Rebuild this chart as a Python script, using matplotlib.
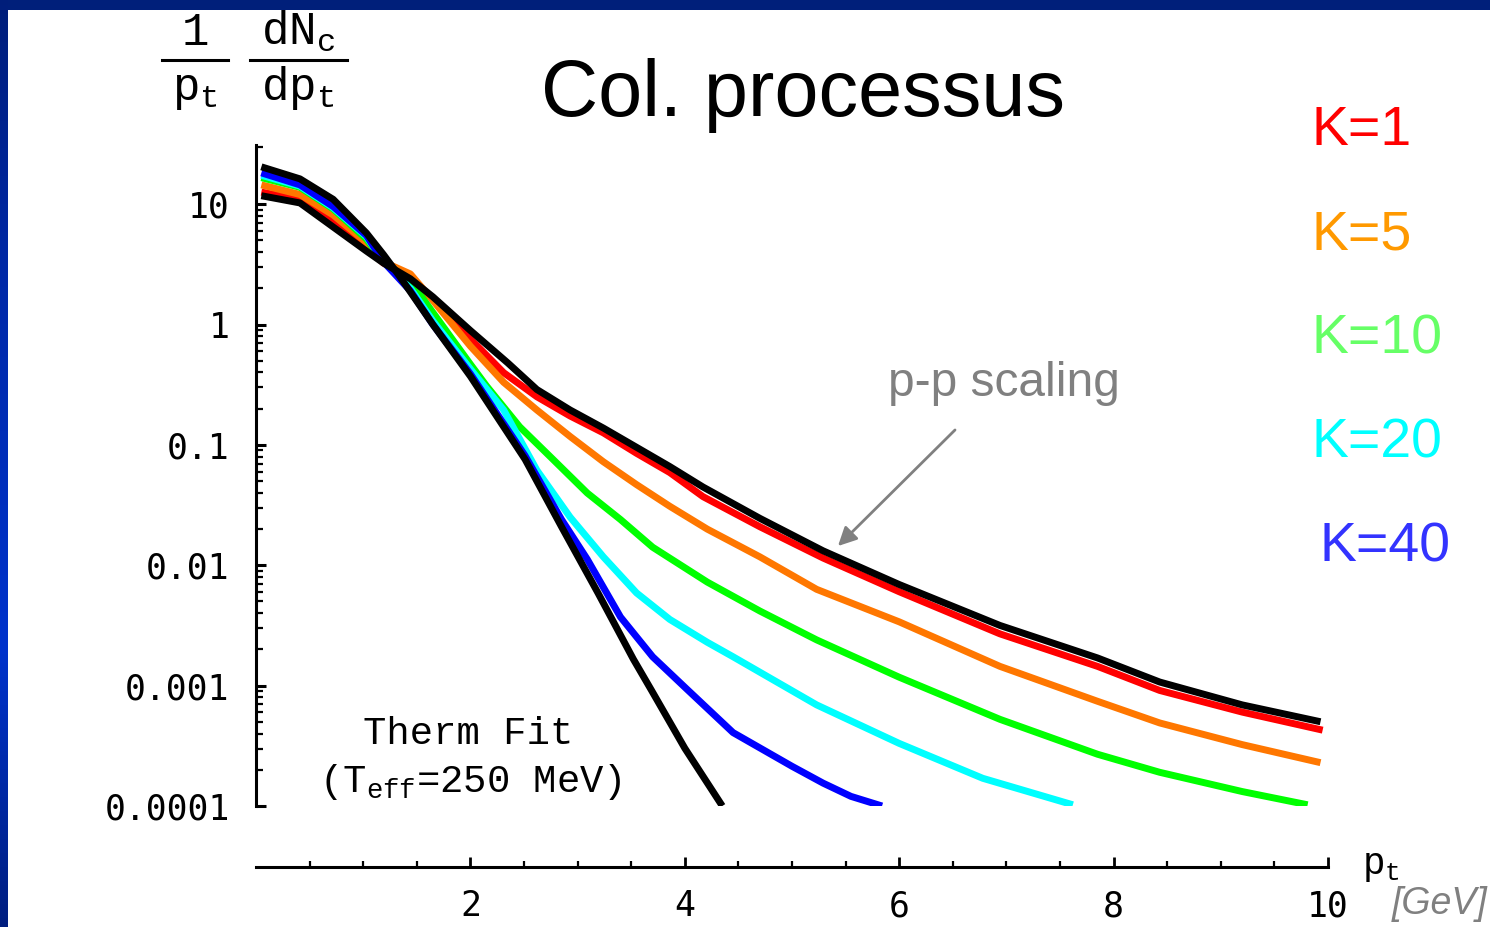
import numpy as np
import matplotlib
matplotlib.use('Agg')
import matplotlib.pyplot as plt
from matplotlib.lines import Line2D
from matplotlib.patches import Rectangle, FancyArrowPatch
from matplotlib.ticker import FixedLocator, FixedFormatter

plt.rcParams['mathtext.fontset'] = 'custom'
plt.rcParams['mathtext.rm'] = 'Liberation Mono'
plt.rcParams['mathtext.it'] = 'Liberation Mono'

# ---------------- data (y given as log10 values) ----------------
x_therm = [0.05, 0.41, 0.72, 1.03, 1.19, 1.34, 1.65, 2.0, 2.51, 2.85, 3.19, 3.52, 3.69, 4.0, 4.35]
logy_therm = [1.31, 1.21, 1.04, 0.76, 0.58, 0.40, 0.0, -0.43, -1.12, -1.68, -2.23, -2.78, -3.04, -3.52, -4.0]

x_pp = [0.05, 0.41, 0.72, 1.03, 1.19, 1.44, 1.65, 2.0, 2.35, 2.62, 2.93, 3.24, 3.55, 3.86, 4.17,
        4.7, 5.29, 6.0, 6.94, 7.85, 8.43, 9.2, 9.93]
logy_pp = [1.07, 1.01, 0.81, 0.61, 0.51, 0.38, 0.23, -0.05, -0.32, -0.54, -0.71, -0.86, -1.02, -1.18, -1.35,
           -1.61, -1.88, -2.16, -2.50, -2.77, -2.97, -3.16, -3.30]

x_k1 = [0.05, 0.41, 0.72, 1.03, 1.19, 1.44, 1.65, 2.0, 2.31, 2.62, 2.93, 3.24, 3.55, 3.86, 4.17,
        4.7, 5.29, 6.0, 6.94, 7.85, 8.43, 9.2, 9.95]
logy_k1 = [1.10, 1.04, 0.87, 0.64, 0.51, 0.39, 0.21, -0.12, -0.40, -0.60, -0.76, -0.90, -1.07, -1.23, -1.43,
           -1.68, -1.94, -2.22, -2.57, -2.84, -3.04, -3.22, -3.37]

x_k5 = [0.05, 0.41, 0.72, 1.03, 1.19, 1.44, 1.65, 2.0, 2.31, 2.62, 2.93, 3.24, 3.55, 3.86, 4.21,
        4.7, 5.23, 6.0, 6.94, 7.85, 8.43, 9.2, 9.93]
logy_k5 = [1.16, 1.08, 0.91, 0.68, 0.52, 0.42, 0.20, -0.18, -0.48, -0.71, -0.93, -1.14, -1.33, -1.51, -1.70,
           -1.93, -2.20, -2.47, -2.84, -3.13, -3.31, -3.49, -3.64]

x_k10 = [0.05, 0.41, 0.72, 1.03, 1.19, 1.44, 1.65, 2.0, 2.15, 2.46, 2.77, 3.09, 3.40, 3.70, 4.21,
         4.7, 5.23, 6.0, 6.94, 7.85, 8.43, 9.2, 9.81]
logy_k10 = [1.22, 1.14, 0.96, 0.71, 0.52, 0.36, 0.10, -0.33, -0.51, -0.85, -1.12, -1.40, -1.62, -1.85, -2.14,
            -2.38, -2.62, -2.93, -3.28, -3.57, -3.72, -3.88, -3.99]

x_k20 = [0.05, 0.41, 0.72, 1.03, 1.19, 1.44, 1.65, 2.0, 2.31, 2.62, 2.93, 3.24, 3.55, 3.86, 4.21,
         4.45, 5.23, 6.0, 6.78, 7.62]
logy_k20 = [1.24, 1.15, 0.97, 0.73, 0.52, 0.30, 0.03, -0.37, -0.71, -1.21, -1.60, -1.93, -2.23, -2.45, -2.64,
            -2.76, -3.16, -3.48, -3.77, -3.99]

x_k40 = [0.05, 0.41, 0.72, 1.03, 1.19, 1.44, 1.65, 2.0, 2.51, 2.85, 3.09, 3.40, 3.70, 4.02, 4.45,
         5.0, 5.29, 5.55, 5.84]
logy_k40 = [1.26, 1.16, 0.98, 0.74, 0.52, 0.28, 0.0, -0.41, -1.09, -1.62, -1.95, -2.43, -2.76, -3.03, -3.39,
            -3.67, -3.81, -3.92, -4.0]

k_labels = ['K=1', 'K=5', 'K=10', 'K=20', 'K=40']
k_colors = ['#ff0000', '#ff9900', '#66ff66', '#00ffff', '#3333ff']
line_colors = ['#ff0000', '#ff7700', '#00ff00', '#00ffff', '#0000ff']

y_major = [1e-4, 1e-3, 1e-2, 1e-1, 1, 10]
y_major_labels = ['0.0001', '0.001', '0.01', '0.1', '1', '10']
x_major = [2, 4, 6, 8, 10]
x_major_labels = ['2', '4', '6', '8', '10']

# ---------------- figure ----------------
W, H, DPI = 1490, 927, 100
fig = plt.figure(figsize=(W / DPI, H / DPI), dpi=DPI)
fig.patch.set_facecolor('white')

def fx(x):
    return x / W

def fy(y):
    return 1 - y / H

# slide border: top band and left gradient band
fig.add_artist(Rectangle((0, fy(10)), 1, 10 / H, transform=fig.transFigure,
                         facecolor='#001f7a', edgecolor='none', zorder=0))
bax = fig.add_axes([0, 0, 8 / W, 1])
grad_pos = np.array([0.0, 0.3, 0.7, 1.0])
grad_col = np.array([[0.0, 0.12, 0.48], [0.0, 0.16, 0.66], [0.0, 0.2, 0.8], [0.0, 0.12, 0.5]])
yy = np.linspace(0, 1, 200)
img = np.stack([np.interp(yy, grad_pos, grad_col[:, c]) for c in range(3)], axis=1)[:, None, :]
bax.imshow(img, aspect='auto', extent=[0, 1, 1, 0])
bax.set_axis_off()

ax = fig.add_axes([fx(256), fy(806), (1328 - 256) / W, (806 - 145) / H])
ax.set_facecolor('none')
ax.set_yscale('log')
ax.set_xlim(0, 10)
ax.set_ylim(1e-4, 31)

LW = 5.0
series = [(x_k1, logy_k1), (x_k5, logy_k5), (x_k10, logy_k10), (x_k20, logy_k20), (x_k40, logy_k40)]
for (xs, ls), c in zip(series, line_colors):
    ax.plot(xs, 10 ** np.array(ls), color=c, lw=LW, solid_capstyle='butt', solid_joinstyle='round')
ax.plot(x_pp, 10 ** np.array(logy_pp), color='black', lw=LW, solid_capstyle='butt', solid_joinstyle='round')
ax.plot(x_therm, 10 ** np.array(logy_therm), color='black', lw=LW, solid_capstyle='butt', solid_joinstyle='round')

# spines
for s in ['top', 'right']:
    ax.spines[s].set_visible(False)
ax.spines['left'].set_linewidth(2.2)
ax.spines['bottom'].set_linewidth(2.2)
ax.spines['bottom'].set_position(('outward', 61 * 72 / DPI))

# y ticks
ax.yaxis.set_major_locator(FixedLocator(y_major))
ax.yaxis.set_major_formatter(FixedFormatter(y_major_labels))
minor_y = [m * 10.0 ** k for k in range(-4, 1) for m in range(2, 10)] + [30]
ax.yaxis.set_minor_locator(FixedLocator(minor_y))
ax.yaxis.set_minor_formatter(FixedFormatter([''] * len(minor_y)))
ax.tick_params(axis='y', which='major', direction='in', length=7.5, width=2.2, pad=19, labelsize=25)
ax.tick_params(axis='y', which='minor', direction='in', length=5, width=1.6)

# x ticks
ax.xaxis.set_major_locator(FixedLocator(x_major))
ax.xaxis.set_major_formatter(FixedFormatter(x_major_labels))
minor_x = [v * 0.5 for v in range(1, 20) if (v * 0.5) % 2 != 0]
ax.xaxis.set_minor_locator(FixedLocator(minor_x))
ax.tick_params(axis='x', which='major', direction='in', length=7, width=2.0, pad=16, labelsize=25)
ax.tick_params(axis='x', which='minor', direction='in', length=4.5, width=1.6)
for lab in ax.get_xticklabels() + ax.get_yticklabels():
    lab.set_fontfamily('DejaVu Sans Mono')

# ---------------- texts ----------------
mono = 'Liberation Mono'
fig.text(fx(803), fy(116), 'Col. processus', ha='center', va='baseline',
         fontsize=57, family='Liberation Sans', color='black')

# y-axis label (fraction)
fig.text(fx(195), fy(45), '1', ha='center', va='baseline', fontsize=33, family=mono)
fig.text(fx(195), fy(100), r'p$_{\mathrm{t}}$', ha='center', va='baseline', fontsize=33, family=mono)
fig.text(fx(298), fy(45), r'dN$_{\mathrm{c}}$', ha='center', va='baseline', fontsize=33, family=mono)
fig.text(fx(298), fy(100), r'dp$_{\mathrm{t}}$', ha='center', va='baseline', fontsize=33, family=mono)
fig.add_artist(Line2D([fx(162), fx(228)], [fy(60), fy(60)], transform=fig.transFigure, color='black', lw=2.2))
fig.add_artist(Line2D([fx(250), fx(347)], [fy(60), fy(60)], transform=fig.transFigure, color='black', lw=2.2))

# K labels
k_pos = [(1312, 131), (1312, 235), (1312, 339), (1312, 443), (1320, 547)]
for lab, col, (x, y) in zip(k_labels, k_colors, k_pos):
    fig.text(fx(x), fy(y), lab, ha='left', va='center', fontsize=40, family='Liberation Sans', color=col)

# p-p scaling annotation
fig.text(fx(888), fy(384), 'p-p scaling', ha='left', va='center', fontsize=34.5,
         family='Liberation Sans', color='#808080')
fig.add_artist(FancyArrowPatch((fx(957), fy(428)), (fx(836), fy(548)), transform=fig.transFigure,
                               arrowstyle='-|>', mutation_scale=28, lw=2, color='#808080'))

# thermal fit label
fig.text(fx(468), fy(734), 'Therm Fit', ha='center', va='center', fontsize=28, family=mono)
fig.text(fx(470), fy(782), r'(T$_{\mathrm{eff}}$=250 MeV)', ha='center', va='center', fontsize=28, family=mono)

# x-axis label
fig.text(fx(1362), fy(874), r'p$_{\mathrm{t}}$', ha='left', va='baseline', fontsize=27, family=mono)
fig.text(fx(1487), fy(904), '[GeV]', ha='right', va='center', fontsize=27, family='Liberation Sans',
         style='italic', color='#808080')

fig.savefig('out.png', dpi=DPI)
